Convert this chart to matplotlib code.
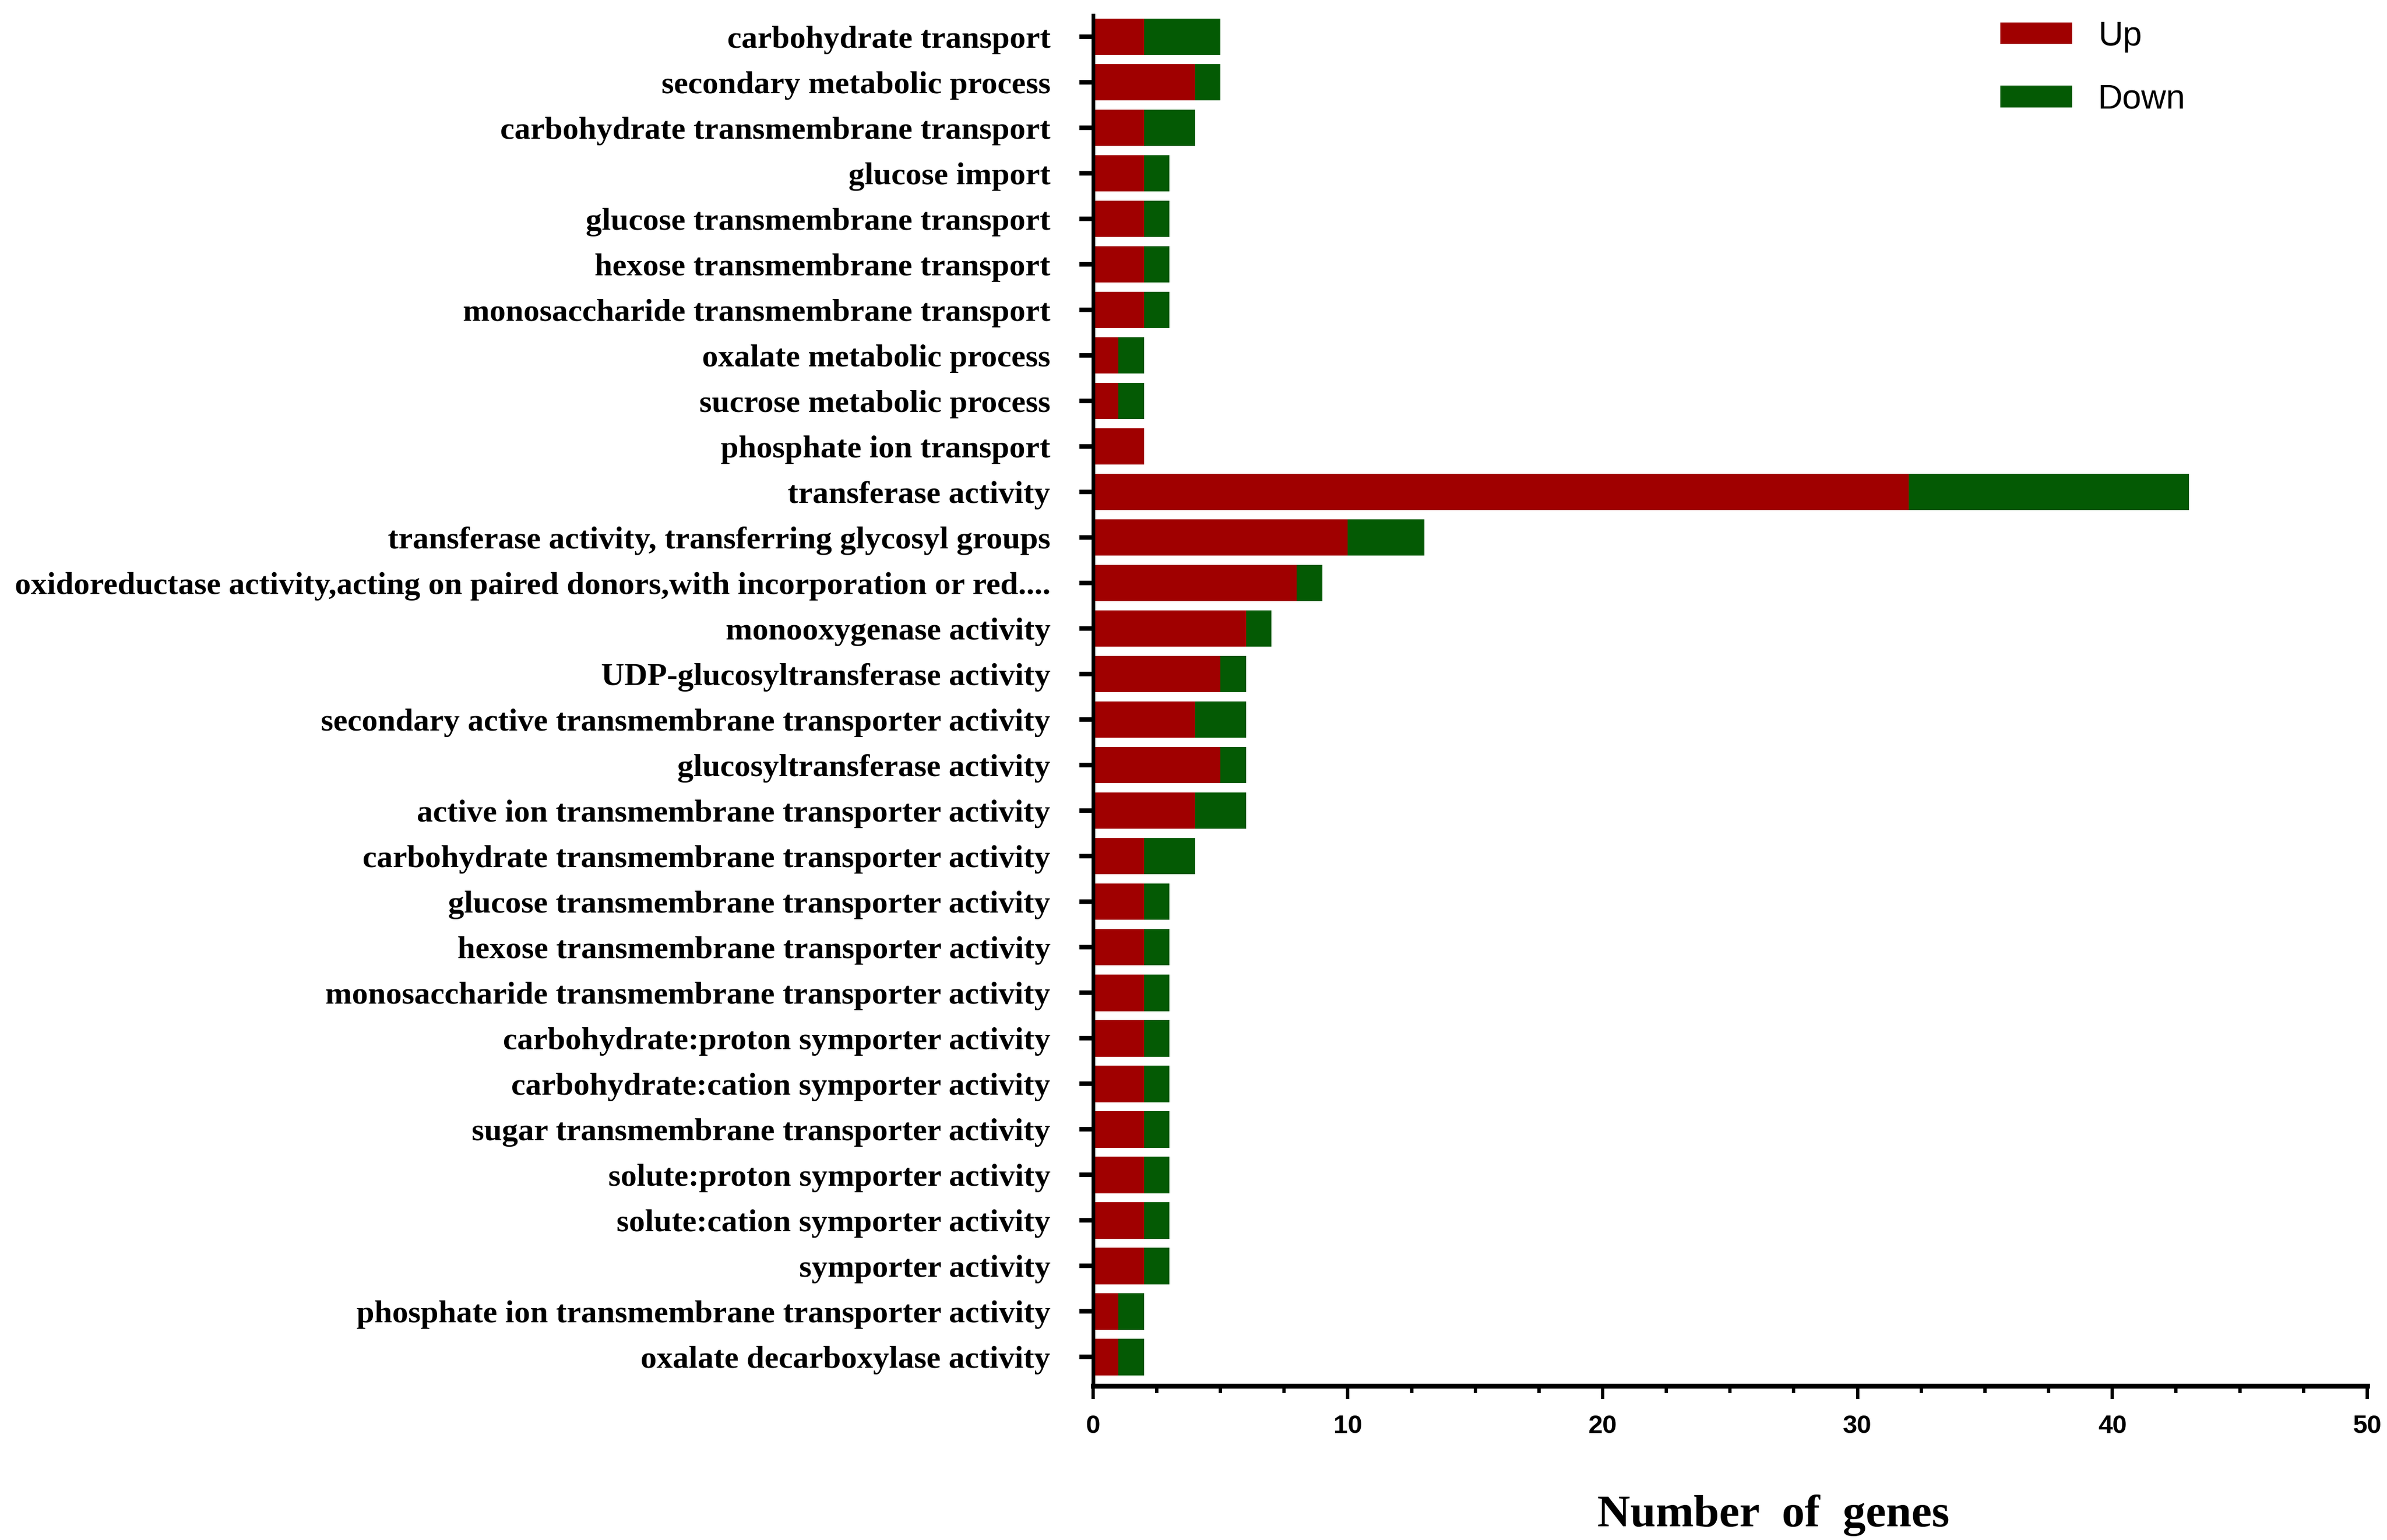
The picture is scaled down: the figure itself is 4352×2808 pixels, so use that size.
import matplotlib
matplotlib.use('Agg')
import matplotlib.pyplot as plt
import numpy as np
from matplotlib.ticker import MultipleLocator

# GO terms, top to bottom
terms = ['carbohydrate transport',
         'secondary metabolic process',
         'carbohydrate transmembrane transport',
         'glucose import',
         'glucose transmembrane transport',
         'hexose transmembrane transport',
         'monosaccharide transmembrane transport',
         'oxalate metabolic process',
         'sucrose metabolic process',
         'phosphate ion transport',
         'transferase activity',
         'transferase activity, transferring glycosyl groups',
         'oxidoreductase activity,acting on paired donors,with incorporation or red....',
         'monooxygenase activity',
         'UDP-glucosyltransferase activity',
         'secondary active transmembrane transporter activity',
         'glucosyltransferase activity',
         'active ion transmembrane transporter activity',
         'carbohydrate transmembrane transporter activity',
         'glucose transmembrane transporter activity',
         'hexose transmembrane transporter activity',
         'monosaccharide transmembrane transporter activity',
         'carbohydrate:proton symporter activity',
         'carbohydrate:cation symporter activity',
         'sugar transmembrane transporter activity',
         'solute:proton symporter activity',
         'solute:cation symporter activity',
         'symporter activity',
         'phosphate ion transmembrane transporter activity',
         'oxalate decarboxylase activity']

up = [2, 4, 2, 2, 2, 2, 2, 1, 1, 2,
      32, 10, 8, 6, 5, 4, 5, 4, 2, 2,
      2, 2, 2, 2, 2, 2, 2, 2, 1, 1]
down = [3, 1, 2, 1, 1, 1, 1, 1, 1, 0,
        11, 3, 1, 1, 1, 2, 1, 2, 2, 1,
        1, 1, 1, 1, 1, 1, 1, 1, 1, 1]

red = '#A00000'
green = '#045A04'

fig = plt.figure(figsize=(21.76, 14.04), dpi=200)
ax = fig.add_axes([0.4579, 0.100, 0.5338, 0.8901])

y = np.arange(len(terms))
ax.barh(y, up, height=0.8, color=red, label='Up')
ax.barh(y, down, left=up, height=0.8, color=green, label='Down')

ax.set_ylim(len(terms) - 1 + 0.635, -0.47)
ax.set_xlim(0, 50)

# axes look
for s in ['top', 'right']:
    ax.spines[s].set_visible(False)
ax.spines['left'].set_linewidth(2.4)
ax.spines['bottom'].set_linewidth(3.2)

ax.set_yticks(y)
ax.set_yticklabels(terms, fontsize=21, fontfamily='Liberation Serif', fontweight='bold')
ax.tick_params(axis='y', direction='out', length=9, width=3, pad=19)

ax.xaxis.set_major_locator(MultipleLocator(10))
ax.xaxis.set_minor_locator(MultipleLocator(2.5))
ax.tick_params(axis='x', which='major', direction='out', length=8.6, width=2.2, pad=10)
ax.tick_params(axis='x', which='minor', direction='out', length=4.7, width=2.2)
for lab in ax.get_xticklabels():
    lab.set_fontfamily('Liberation Sans')
    lab.set_fontweight('bold')
    lab.set_fontsize(17)

ax.set_xlabel('Number  of  genes', fontsize=30, fontfamily='Liberation Serif',
              fontweight='bold')
ax.xaxis.set_label_coords(0.534, -0.079)

ax.legend(loc='upper left', bbox_to_anchor=(0.825, 1.007), bbox_transform=fig.transFigure,
          frameon=False, prop={'family': 'Liberation Sans', 'size': 22.5},
          handlelength=2.1, handleheight=0.6, labelspacing=0.9, handletextpad=0.75)

fig.savefig('out.png', dpi=200)
